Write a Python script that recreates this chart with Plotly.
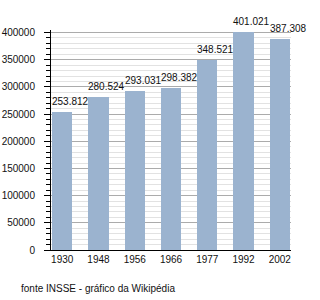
import plotly.graph_objects as go

years = ["1930", "1948", "1956", "1966", "1977", "1992", "2002"]
population = [253812, 280524, 293031, 298382, 348521, 401021, 387308]
labels = [f"{v:,}".replace(",", ".") for v in population]
source_note = "fonte INSSE - gráfico da Wikipédia"

BAR_W = 0.56
FONT = dict(family="Liberation Sans, Arial, sans-serif", size=10, color="#111111")

fig = go.Figure()
fig.add_trace(go.Bar(
    x=list(range(len(years))), y=population,
    width=BAR_W, marker=dict(color="#9bb3cf", line=dict(width=0)),
    hoverinfo="skip",
))

for i, (v, t) in enumerate(zip(population, labels)):
    fig.add_annotation(
        x=i - BAR_W / 2, y=v, xref="x", yref="y", text=t,
        showarrow=False, xanchor="left", yanchor="bottom",
        xshift=-2, yshift=3, font=FONT,
    )

W, H = 320, 300
L, R, T, B = 51, 29, 30, 50
fig.add_annotation(
    xref="paper", yref="paper",
    x=(19 - L) / (W - L - R), y=(H - B - 288) / (H - T - B),
    text=source_note, showarrow=False, xanchor="left", yanchor="middle",
    font=FONT,
)

fig.update_layout(
    width=W, height=H, margin=dict(l=L, r=R, t=T, b=B, autoexpand=False),
    paper_bgcolor="white", plot_bgcolor="white",
    showlegend=False, font=FONT, bargap=0,
)
fig.update_xaxes(
    tickmode="array", tickvals=list(range(len(years))), ticktext=years,
    range=[-0.31, 6.31], showline=True, linecolor="black", linewidth=1,
    showgrid=False, ticks="", zeroline=False, tickfont=FONT, automargin=False,
)
fig.update_yaxes(
    range=[0, 404600], dtick=50000, tickformat="d",
    showline=True, linecolor="black", linewidth=1,
    showgrid=True, gridcolor="#ababab", gridwidth=1,
    ticks="outside", ticklen=6, tickcolor="black", tickwidth=1,
    zeroline=False, tickfont=FONT, ticklabelstandoff=7, automargin=False,
    minor=dict(dtick=10000, showgrid=True, gridcolor="#e2e2e2",
               ticks="outside", ticklen=4, tickcolor="black", tickwidth=1),
)

fig.write_html("out.html")
